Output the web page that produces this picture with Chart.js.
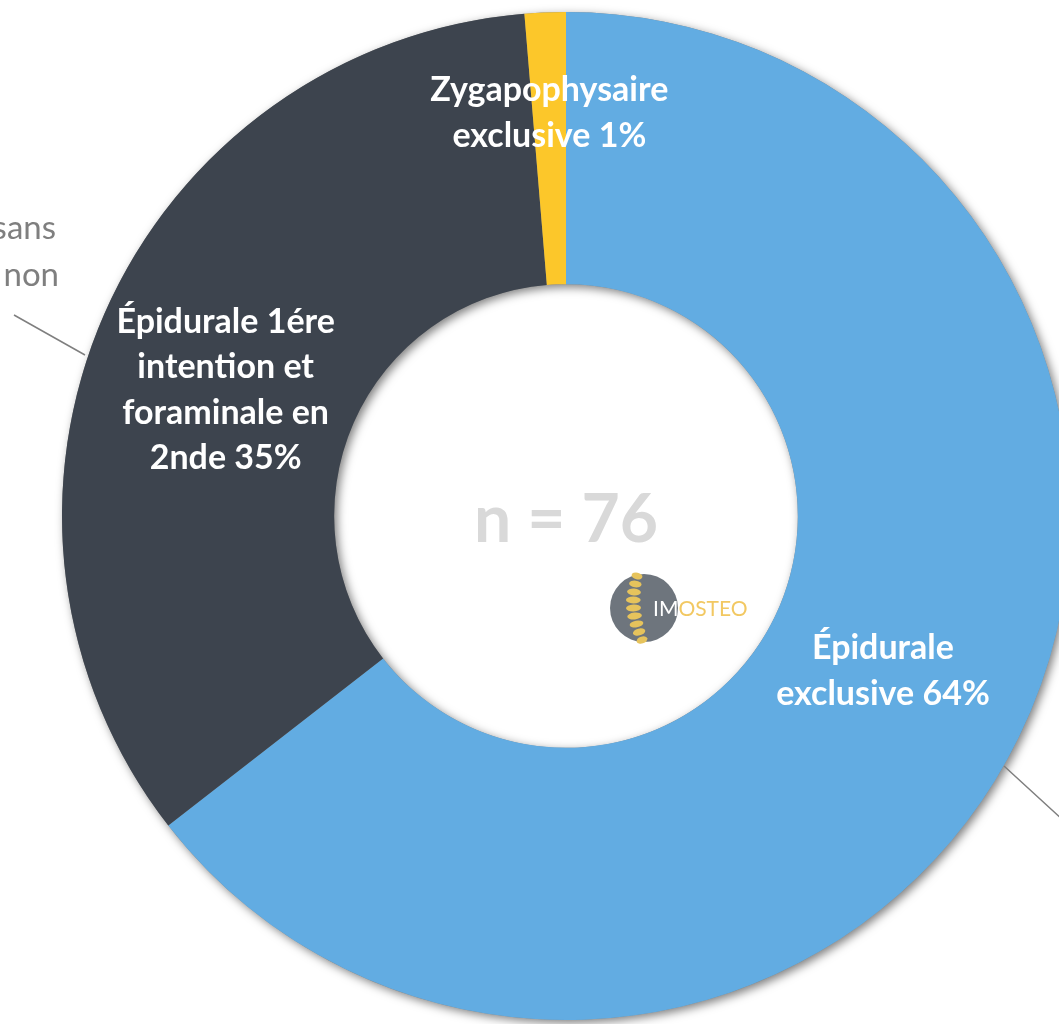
<!DOCTYPE html>
<html>
<head>
<meta charset="utf-8">
<script src="https://cdn.jsdelivr.net/npm/chart.js@4.4.1/dist/chart.umd.min.js"></script>
<style>
  html, body { margin: 0; padding: 0; background: #fff; overflow: hidden; }
  #wrap { position: absolute; left: 0; top: 0; width: 1130px; height: 1024px; }
</style>
</head>
<body>
<div id="wrap"><canvas id="donut" width="1130" height="1024"></canvas></div>
<script>
// counts out of n = 76
const categories = ['Épidurale exclusive', 'Épidurale 1ére intention et foraminale en 2nde', 'Zygapophysaire exclusive'];
const counts = [49, 26, 1];
const percentLabels = ['64%', '35%', '1%'];
const labelLines = [
    ['Épidurale', 'exclusive 64%'],
    ['Épidurale 1ére', 'intention et', 'foraminale en', '2nde 35%'],
    ['Zygapophysaire', 'exclusive 1%']
];
const colors = ['#62ACE2', '#3D444E', '#FCC72A'];
const labelRadius = [0.70, 0.72, 0.80];
const labelShift = [[0, 0], [-8, 20], [0, 0]];
const totalLabel = 'n = 76';

const FONT = 'Lato, "Open Sans", sans-serif';

// ring shadow drawn under the arcs
const ringShadow = {
    id: 'ringShadow',
    beforeDatasetsDraw(chart) {
        const arc = chart.getDatasetMeta(0).data[0];
        if (!arc) return;
        const ctx = chart.ctx;
        ctx.save();
        ctx.beginPath();
        ctx.arc(arc.x, arc.y, arc.outerRadius, 0, Math.PI * 2);
        ctx.arc(arc.x, arc.y, arc.innerRadius, 0, Math.PI * 2, true);
        ctx.shadowColor = 'rgba(0,0,0,0.5)';
        ctx.shadowBlur = 10;
        ctx.shadowOffsetX = 3;
        ctx.shadowOffsetY = 3;
        ctx.fillStyle = '#888';
        ctx.fill();
        ctx.restore();
    }
};

const labelsPlugin = {
    id: 'sliceLabels',
    afterDatasetsDraw(chart) {
        const ctx = chart.ctx;
        const arcs = chart.getDatasetMeta(0).data;
        ctx.save();
        ctx.fillStyle = '#fff';
        ctx.textAlign = 'center';
        ctx.textBaseline = 'middle';
        ctx.font = 'bold 34px ' + FONT;
        arcs.forEach(function(arc, i) {
            const mid = (arc.startAngle + arc.endAngle) / 2;
            const r = arc.outerRadius * labelRadius[i];
            const cx = arc.x + Math.cos(mid) * r + labelShift[i][0];
            const cy = arc.y + Math.sin(mid) * r + labelShift[i][1];
            const lines = labelLines[i];
            const lh = 45.5;
            lines.forEach(function(t, j) {
                ctx.fillText(t, cx, cy + (j - (lines.length - 1) / 2) * lh);
            });
        });

        const c = arcs[0];
        // centre total
        ctx.fillStyle = '#D9D9D9';
        ctx.font = 'bold 66px ' + FONT;
        ctx.fillText(totalLabel, c.x, c.y + 5);

        // partially visible labels + leader lines (cut off by the frame)
        ctx.fillStyle = '#7F7F7F';
        ctx.font = '33px ' + FONT;
        ctx.textAlign = 'right';
        ctx.fillText('sans', c.x - 510, c.y - 288);
        ctx.fillText('non', c.x - 507, c.y - 241);
        ctx.strokeStyle = '#7F7F7F';
        ctx.lineWidth = 1.5;
        ctx.beginPath();
        ctx.moveTo(c.x - 552, c.y - 201);
        ctx.lineTo(c.x - 481, c.y - 161);
        ctx.moveTo(c.x + 438, c.y + 250);
        ctx.lineTo(c.x + 510, c.y + 316);
        ctx.stroke();

        // IMOSTEO logo
        const lx = c.x + 78, ly = c.y + 92;
        ctx.fillStyle = '#6E757D';
        ctx.beginPath();
        ctx.arc(lx, ly, 34, 0, Math.PI * 2);
        ctx.fill();
        ctx.fillStyle = '#E6C35C';
        for (let k = 0; k < 9; k++) {
            const t = k / 8;
            const vx = lx - 7 - Math.sin(t * Math.PI) * 6 + t * 5;
            const vy = ly - 32 + k * 8;
            ctx.beginPath();
            ctx.ellipse(vx, vy, 5.5 + Math.sin(t * Math.PI) * 2, 3.4, 0.2 - t * 0.5, 0, Math.PI * 2);
            ctx.fill();
        }
        ctx.textAlign = 'left';
        ctx.font = '21px ' + FONT;
        ctx.fillStyle = '#FFFFFF';
        ctx.fillText('IM', lx + 9, ly + 1);
        const imw = ctx.measureText('IM').width;
        ctx.fillStyle = '#F2C862';
        ctx.fillText('OSTEO', lx + 9 + imw, ly + 1);
        ctx.restore();
    }
};

new Chart(document.getElementById('donut'), {
    type: 'doughnut',
    data: {
        labels: categories,
        datasets: [{
            data: counts,
            backgroundColor: colors,
            borderWidth: 0
        }]
    },
    options: {
        responsive: false,
        animation: false,
        cutout: '46%',
        layout: { padding: { left: 62, top: 12, right: 60, bottom: 4 } },
        plugins: {
            legend: { display: false },
            tooltip: { enabled: false }
        }
    },
    plugins: [ringShadow, labelsPlugin]
});
</script>
</body>
</html>
